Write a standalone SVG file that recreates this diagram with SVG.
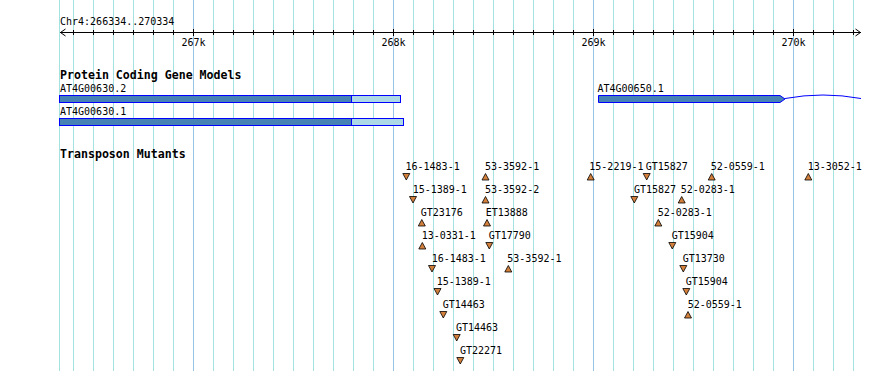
<svg xmlns="http://www.w3.org/2000/svg" width="890" height="371" viewBox="0 0 890 371">
<style>
.bg{fill:#ffffff}
.grid{stroke:#a4e2e2;stroke-width:1}
.gridM{stroke:#98c4e6;stroke-width:1}
.ax{stroke:#000;stroke-width:1;fill:none}
.t{font-family:"DejaVu Sans Mono","Liberation Mono",monospace;font-size:10px;fill:#000}
.tb{font-family:"DejaVu Sans Mono","Liberation Mono",monospace;font-size:11.6px;font-weight:bold;fill:#000}
.cds{fill:#4682b4;stroke:#0000ff;stroke-width:1}
.utr{fill:#add8e6;stroke:#0000ff;stroke-width:1}
.intron{fill:none;stroke:#0000ff;stroke-width:1}
.tri{fill:#d2803c;stroke:#000;stroke-width:0.8;stroke-linejoin:miter}
</style>
<rect class="bg" x="0" y="0" width="890" height="371"/>
<g id="grid">
<line class="grid" x1="59.5" y1="0" x2="59.5" y2="371"/>
<line class="grid" x1="73.5" y1="0" x2="73.5" y2="371"/>
<line class="grid" x1="93.5" y1="0" x2="93.5" y2="371"/>
<line class="grid" x1="113.5" y1="0" x2="113.5" y2="371"/>
<line class="grid" x1="133.5" y1="0" x2="133.5" y2="371"/>
<line class="grid" x1="153.5" y1="0" x2="153.5" y2="371"/>
<line class="grid" x1="173.5" y1="0" x2="173.5" y2="371"/>
<line class="gridM" x1="193.5" y1="0" x2="193.5" y2="371"/>
<line class="grid" x1="213.5" y1="0" x2="213.5" y2="371"/>
<line class="grid" x1="233.5" y1="0" x2="233.5" y2="371"/>
<line class="grid" x1="253.5" y1="0" x2="253.5" y2="371"/>
<line class="grid" x1="273.5" y1="0" x2="273.5" y2="371"/>
<line class="grid" x1="293.5" y1="0" x2="293.5" y2="371"/>
<line class="grid" x1="313.5" y1="0" x2="313.5" y2="371"/>
<line class="grid" x1="333.5" y1="0" x2="333.5" y2="371"/>
<line class="grid" x1="353.5" y1="0" x2="353.5" y2="371"/>
<line class="grid" x1="373.5" y1="0" x2="373.5" y2="371"/>
<line class="gridM" x1="393.5" y1="0" x2="393.5" y2="371"/>
<line class="grid" x1="413.5" y1="0" x2="413.5" y2="371"/>
<line class="grid" x1="433.5" y1="0" x2="433.5" y2="371"/>
<line class="grid" x1="453.5" y1="0" x2="453.5" y2="371"/>
<line class="grid" x1="473.5" y1="0" x2="473.5" y2="371"/>
<line class="grid" x1="493.5" y1="0" x2="493.5" y2="371"/>
<line class="grid" x1="513.5" y1="0" x2="513.5" y2="371"/>
<line class="grid" x1="533.5" y1="0" x2="533.5" y2="371"/>
<line class="grid" x1="553.5" y1="0" x2="553.5" y2="371"/>
<line class="grid" x1="573.5" y1="0" x2="573.5" y2="371"/>
<line class="gridM" x1="593.5" y1="0" x2="593.5" y2="371"/>
<line class="grid" x1="613.5" y1="0" x2="613.5" y2="371"/>
<line class="grid" x1="633.5" y1="0" x2="633.5" y2="371"/>
<line class="grid" x1="653.5" y1="0" x2="653.5" y2="371"/>
<line class="grid" x1="673.5" y1="0" x2="673.5" y2="371"/>
<line class="grid" x1="693.5" y1="0" x2="693.5" y2="371"/>
<line class="grid" x1="713.5" y1="0" x2="713.5" y2="371"/>
<line class="grid" x1="733.5" y1="0" x2="733.5" y2="371"/>
<line class="grid" x1="753.5" y1="0" x2="753.5" y2="371"/>
<line class="grid" x1="773.5" y1="0" x2="773.5" y2="371"/>
<line class="gridM" x1="793.5" y1="0" x2="793.5" y2="371"/>
<line class="grid" x1="813.5" y1="0" x2="813.5" y2="371"/>
<line class="grid" x1="833.5" y1="0" x2="833.5" y2="371"/>
<line class="grid" x1="853.5" y1="0" x2="853.5" y2="371"/>
</g>
<g id="ruler">
<text class="t" x="60" y="25">Chr4:266334..270334</text>
<line class="ax" x1="60" y1="32.5" x2="861" y2="32.5"/>
<path class="ax" d="M65.5,29 L60.5,32.5 L65.5,36"/>
<path class="ax" d="M855.5,29 L860.5,32.5 L855.5,36"/>
<path class="ax" d="M73.5,30V35 M93.5,30V35 M113.5,30V35 M133.5,30V35 M153.5,30V35 M173.5,30V35 M213.5,30V35 M233.5,30V35 M253.5,30V35 M273.5,30V35 M293.5,30V35 M313.5,30V35 M333.5,30V35 M353.5,30V35 M373.5,30V35 M413.5,30V35 M433.5,30V35 M453.5,30V35 M473.5,30V35 M493.5,30V35 M513.5,30V35 M533.5,30V35 M553.5,30V35 M573.5,30V35 M613.5,30V35 M633.5,30V35 M653.5,30V35 M673.5,30V35 M693.5,30V35 M713.5,30V35 M733.5,30V35 M753.5,30V35 M773.5,30V35 M813.5,30V35 M833.5,30V35 M853.5,30V35"/>
<path class="ax" d="M193.5,29V36 M393.5,29V36 M593.5,29V36 M793.5,29V36"/>
<text class="t" x="193.5" y="45.5" text-anchor="middle">267k</text>
<text class="t" x="393.5" y="45.5" text-anchor="middle">268k</text>
<text class="t" x="593.5" y="45.5" text-anchor="middle">269k</text>
<text class="t" x="793.5" y="45.5" text-anchor="middle">270k</text>
</g>
<text class="tb" x="60" y="79">Protein Coding Gene Models</text>
<g id="AT4G00630.2">
<text class="t" x="60" y="92">AT4G00630.2</text>
<rect class="cds" x="59.5" y="95.5" width="292" height="7"/>
<rect class="utr" x="351.5" y="95.5" width="49" height="7"/>
</g>
<g id="AT4G00630.1">
<text class="t" x="60" y="115">AT4G00630.1</text>
<rect class="cds" x="59.5" y="118.5" width="292" height="7"/>
<rect class="utr" x="351.5" y="118.5" width="52" height="7"/>
</g>
<g id="AT4G00650.1">
<text class="t" x="597.5" y="92">AT4G00650.1</text>
<path class="cds" d="M598.5,95.5 H780 L785,99 L780,102.5 H598.5 Z"/>
<path class="intron" d="M785,98.5 Q823,91.5 861,98.5"/>
</g>
<text class="tb" x="60" y="157.5">Transposon Mutants</text>
<g id="connectors"></g>
<g id="mutants">
<g id="m1"><text class="t" x="405.5" y="169.5">16-1483-1</text><path class="tri" d="M402.8,173.5 H409.8 L406.3,180 Z"/></g>
<g id="m2"><text class="t" x="485" y="169.5">53-3592-1</text><path class="tri" d="M482,180 H489 L485.5,173.5 Z"/></g>
<g id="m3"><text class="t" x="589.3" y="169.5">15-2219-1</text><path class="tri" d="M587.2,180 H594.2 L590.7,173.5 Z"/></g>
<g id="m4"><text class="t" x="645.7" y="169.5">GT15827</text><path class="tri" d="M643.2,173.5 H650.2 L646.7,180 Z"/></g>
<g id="m5"><text class="t" x="710.7" y="169.5">52-0559-1</text><path class="tri" d="M708.2,180 H715.2 L711.7,173.5 Z"/></g>
<g id="m6"><text class="t" x="807.7" y="169.5">13-3052-1</text><path class="tri" d="M804.8,180 H811.8 L808.3,173.5 Z"/></g>
<g id="m7"><text class="t" x="412.7" y="192.5">15-1389-1</text><path class="tri" d="M409.5,196.5 H416.5 L413,203 Z"/></g>
<g id="m8"><text class="t" x="485" y="192.5">53-3592-2</text><path class="tri" d="M482,203 H489 L485.5,196.5 Z"/></g>
<g id="m9"><text class="t" x="634" y="192.5">GT15827</text><path class="tri" d="M630.8,196.5 H637.8 L634.3,203 Z"/></g>
<g id="m10"><text class="t" x="680.7" y="192.5">52-0283-1</text><path class="tri" d="M678.2,203 H685.2 L681.7,196.5 Z"/></g>
<g id="m11"><text class="t" x="420.7" y="215.5">GT23176</text><path class="tri" d="M418.3,226 H425.3 L421.8,219.5 Z"/></g>
<g id="m12"><text class="t" x="485.7" y="215.5">ET13888</text><path class="tri" d="M483.5,226 H490.5 L487,219.5 Z"/></g>
<g id="m13"><text class="t" x="657.7" y="215.5">52-0283-1</text><path class="tri" d="M654.8,226 H661.8 L658.3,219.5 Z"/></g>
<g id="m14"><text class="t" x="421.7" y="238.5">13-0331-1</text><path class="tri" d="M418.8,249 H425.8 L422.3,242.5 Z"/></g>
<g id="m15"><text class="t" x="488.7" y="238.5">GT17790</text><path class="tri" d="M485.8,242.5 H492.8 L489.3,249 Z"/></g>
<g id="m16"><text class="t" x="671.7" y="238.5">GT15904</text><path class="tri" d="M668.8,242.5 H675.8 L672.3,249 Z"/></g>
<g id="m17"><text class="t" x="431.7" y="261.5">16-1483-1</text><path class="tri" d="M428.5,265.5 H435.5 L432,272 Z"/></g>
<g id="m18"><text class="t" x="507.3" y="261.5">53-3592-1</text><path class="tri" d="M504.8,272 H511.8 L508.3,265.5 Z"/></g>
<g id="m19"><text class="t" x="682.7" y="261.5">GT13730</text><path class="tri" d="M679.8,265.5 H686.8 L683.3,272 Z"/></g>
<g id="m20"><text class="t" x="436.7" y="284.5">15-1389-1</text><path class="tri" d="M434,288.5 H441 L437.5,295 Z"/></g>
<g id="m21"><text class="t" x="685.7" y="284.5">GT15904</text><path class="tri" d="M682.8,288.5 H689.8 L686.3,295 Z"/></g>
<g id="m22"><text class="t" x="442.7" y="307.5">GT14463</text><path class="tri" d="M439.8,311.5 H446.8 L443.3,318 Z"/></g>
<g id="m23"><text class="t" x="687.7" y="307.5">52-0559-1</text><path class="tri" d="M684.5,318 H691.5 L688,311.5 Z"/></g>
<g id="m24"><text class="t" x="456" y="330.5">GT14463</text><path class="tri" d="M453.2,334.5 H460.2 L456.7,341 Z"/></g>
<g id="m25"><text class="t" x="460" y="353.5">GT22271</text><path class="tri" d="M456.8,357.5 H463.8 L460.3,364 Z"/></g>
</g>
</svg>
